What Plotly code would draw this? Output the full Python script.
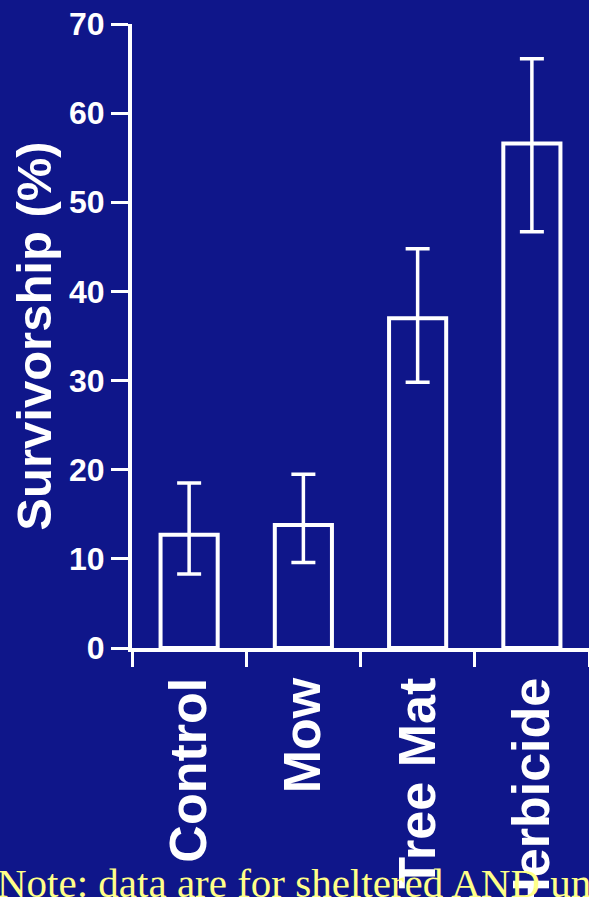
import plotly.graph_objects as go

# ---- data ----
categories = ["Control", "Mow", "Tree Mat", "Herbicide"]
survivorship = [12.7, 13.8, 37.0, 56.6]
err_upper = [18.5, 19.5, 44.8, 66.1]
err_lower = [8.3, 9.6, 29.8, 46.7]
y_ticks = [0, 10, 20, 30, 40, 50, 60, 70]
y_title = "Survivorship (%)"
note_text = "Note: data are for sheltered AND unsheltered"

plus = [u - m for u, m in zip(err_upper, survivorship)]
minus = [m - l for m, l in zip(survivorship, err_lower)]

BG = "#0f168a"
WHITE = "#ffffff"
SANS = "Liberation Sans, Arial, Helvetica, sans-serif"

fig = go.Figure(
    go.Bar(
        x=categories,
        y=survivorship,
        width=0.5,
        marker=dict(color="rgba(0,0,0,0)", line=dict(color=WHITE, width=4)),
        error_y=dict(
            type="data",
            symmetric=False,
            array=plus,
            arrayminus=minus,
            color=WHITE,
            thickness=3.5,
            width=12,
        ),
        showlegend=False,
    )
)

fig.update_layout(
    width=589,
    height=897,
    margin=dict(l=132, r=0, t=24, b=249, pad=0),
    paper_bgcolor=BG,
    plot_bgcolor=BG,
    xaxis=dict(
        type="category",
        range=[-0.5, 3.5],
        showgrid=False,
        zeroline=False,
        showline=True,
        linecolor=WHITE,
        linewidth=4,
        ticks="outside",
        tickson="boundaries",
        ticklen=15,
        tickwidth=3,
        tickcolor=WHITE,
        tickangle=-90,
        ticklabelstandoff=5,
        tickfont=dict(family=SANS, size=52, color=WHITE, weight="bold"),
        automargin=False,
    ),
    yaxis=dict(
        range=[0, 70],
        tickvals=y_ticks,
        showgrid=False,
        zeroline=False,
        showline=True,
        linecolor=WHITE,
        linewidth=4,
        ticks="outside",
        ticklen=17,
        tickwidth=3,
        tickcolor=WHITE,
        tickfont=dict(family=SANS, size=32, color=WHITE, weight="bold"),
        title=dict(
            text=y_title,
            font=dict(family=SANS, size=49, color=WHITE, weight="bold"),
            standoff=3,
        ),
        automargin=False,
    ),
    annotations=[
        dict(
            text=note_text,
            xref="paper",
            yref="paper",
            x=0,
            y=0,
            xanchor="left",
            yanchor="bottom",
            xshift=-137,
            yshift=-260,
            showarrow=False,
            align="left",
            font=dict(family="Liberation Serif, Times New Roman, serif", size=41, color="#ffff88"),
        )
    ],
)

fig.write_html(
    "out.html",
    config={"displayModeBar": False},
    post_script="document.body.style.margin='0';document.body.style.overflow='hidden';",
)
